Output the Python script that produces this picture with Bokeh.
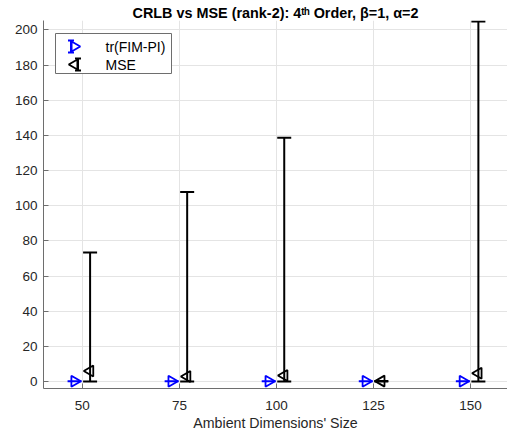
import numpy as np
from bokeh.plotting import figure
from bokeh.models import FixedTicker, Range1d
from bokeh.core.properties import value
from bokeh.embed import file_html
from bokeh.resources import INLINE

# ---- data ----
dims = [50, 75, 100, 125, 150]
crlb = [0.1, 0.1, 0.1, 0.1, 0.1]
mse = [6.0, 2.8, 3.4, 0.2, 4.7]
mse_low = [0.0, 0.0, 0.0, 0.0, 0.0]
mse_high = [73.4, 107.8, 138.7, 0.2, 204.8]
x_ticks = [50, 75, 100, 125, 150]
y_ticks = [0, 20, 40, 60, 80, 100, 120, 140, 160, 180, 200]
series_names = ["tr(FIM-PI)", "MSE"]
x_label = "Ambient Dimensions' Size"
title_text = "CRLB vs MSE (rank-2): 4\u1d57\u02b0 Order, \u03b2=1, \u03b1=2"

shift = 2  # horizontal dodge of the two series
x_crlb = [d - shift for d in dims]
x_mse = [d + shift for d in dims]

FONT = "Liberation Sans"
TXT = "#262626"
AX = "#6e6e6e"

# frame: 464 x 368 px
FW, FH = 464, 368
p = figure(width=507, height=438, x_range=(40, 159.5), y_range=(-4, 205.4),
           output_backend="svg", toolbar_location=None,
           min_border_left=43, min_border_right=0, min_border_top=20,
           min_border_bottom=50)
p.extra_x_ranges = {"px": Range1d(0, FW)}
p.extra_y_ranges = {"px": Range1d(0, FH)}
p.outline_line_color = None
p.background_fill_color = "white"
p.border_fill_color = "white"

p.title.text = title_text
p.title.text_font = FONT
p.title.text_font_size = "14.4px"
p.title.text_font_style = "bold"
p.title.text_color = "black"
p.title.align = "center"
p.title.standoff = 0
p.title.offset = 0

# axes
for ax in (p.xaxis[0], p.yaxis[0]):
    ax.axis_line_color = AX
    ax.major_tick_line_color = AX
    ax.major_tick_in = 5
    ax.major_tick_out = 0
    ax.minor_tick_line_color = None
    ax.major_label_text_font = FONT
    ax.major_label_text_font_size = "13.5px"
    ax.major_label_text_color = TXT
p.xaxis.ticker = FixedTicker(ticks=x_ticks)
p.yaxis.ticker = FixedTicker(ticks=y_ticks)
p.xaxis.major_label_standoff = 12
p.yaxis.major_label_standoff = 6
p.xaxis.axis_label = x_label
p.xaxis.axis_label_text_font = FONT
p.xaxis.axis_label_text_font_size = "14.2px"
p.xaxis.axis_label_text_font_style = "normal"
p.xaxis.axis_label_text_color = TXT
p.xaxis.axis_label_standoff = 2

p.grid.grid_line_color = "#e4e4e4"
p.grid.grid_line_width = 1
p.xgrid.ticker = FixedTicker(ticks=x_ticks)
p.ygrid.ticker = FixedTicker(ticks=y_ticks)

# tr(FIM-PI): zero-length error bars (caps) + markers
p.scatter(x_crlb, crlb, marker="dash", size=14, line_width=2, line_color="blue")
p.scatter(x_crlb, crlb, marker="triangle", angle=-np.pi / 2, size=11,
          fill_color=None, line_color="blue", line_width=1.8)

# MSE: error bars + caps + markers
p.segment(x0=x_mse, y0=mse_low, x1=x_mse, y1=mse_high, line_width=2, line_color="black")
p.scatter(x_mse, mse_low, marker="dash", size=14, line_width=2, line_color="black")
p.scatter(x_mse, mse_high, marker="dash", size=14, line_width=2, line_color="black")
p.scatter(x_mse, mse, marker="triangle", angle=np.pi / 2, size=11,
          fill_color=None, line_color="black", line_width=1.8)

# ---- legend box (frame pixel coordinates, y from bottom) ----
leg = dict(x_range_name="px", y_range_name="px")
p.quad(left=[12], right=[128], bottom=[315], top=[355], fill_color="white",
       line_color=AX, line_width=1, **leg)
row_y = [342, 324]
icon_x = [31, 31]
icon_colors = ["blue", "black"]
icon_angles = [-np.pi / 2, np.pi / 2]
bar_x = [27.5, 34.5]
p.segment(x0=bar_x, y0=[yy - 6 for yy in row_y], x1=bar_x, y1=[yy + 6 for yy in row_y],
          line_color=icon_colors, line_width=2, **leg)
for bx, yy, c in zip(bar_x, row_y, icon_colors):
    p.scatter([bx, bx], [yy - 6, yy + 6], marker="dash", size=6, line_width=2,
              line_color=c, **leg)
p.scatter(icon_x, row_y, marker="triangle", angle=icon_angles, size=10,
          fill_color=None, line_color=icon_colors, line_width=1.8, **leg)
p.text(x=[62, 62], y=row_y, text=series_names, text_font=value(FONT),
       text_font_size="14px", text_color="black", text_baseline="middle",
       text_align="left", **leg)

open("out.html", "w").write(file_html(p, INLINE))
